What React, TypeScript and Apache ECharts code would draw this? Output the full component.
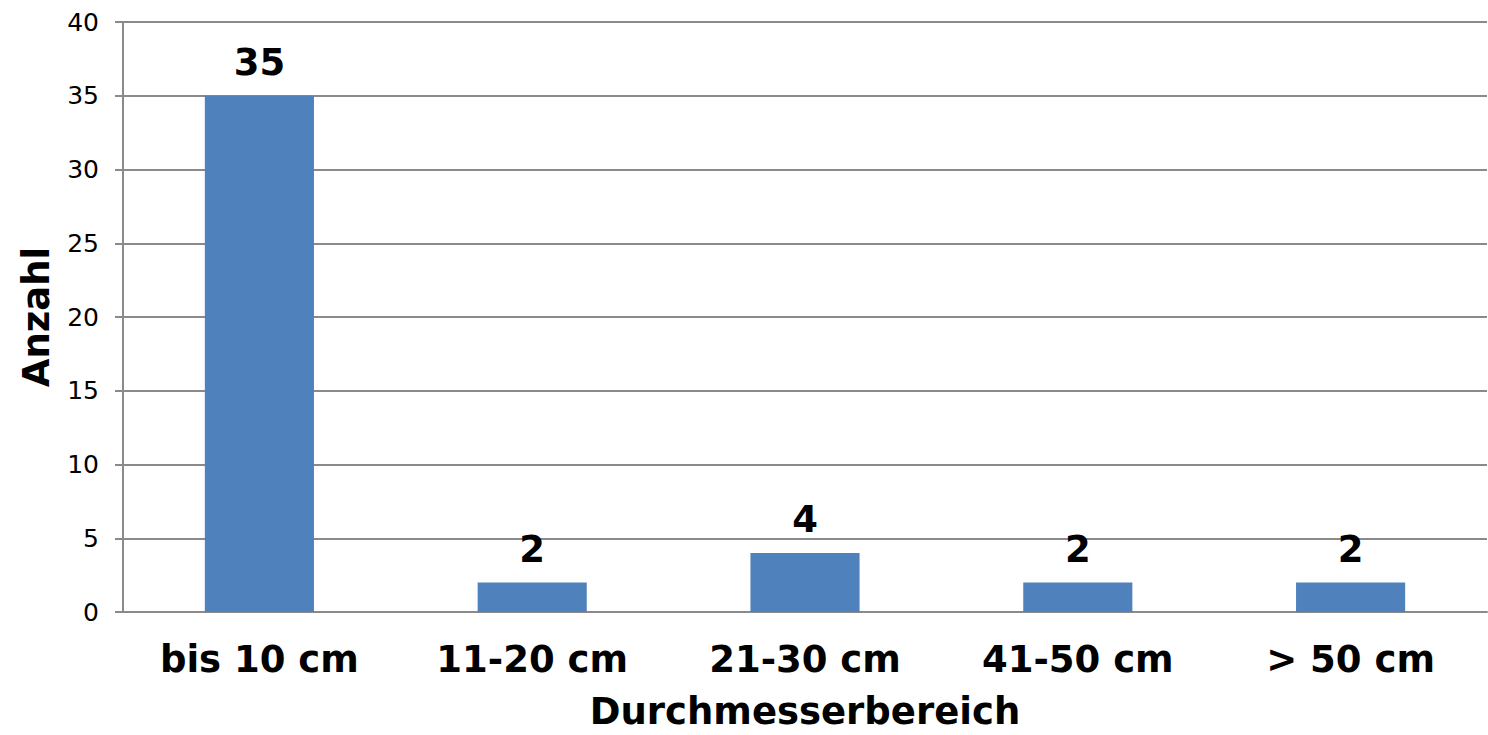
import React, { useEffect, useRef } from "react";
import * as echarts from "echarts";

const categories = ["bis 10 cm", "11-20 cm", "21-30 cm", "41-50 cm", "> 50 cm"];
const counts = [35, 2, 4, 2, 2];
const yTicks = { min: 0, max: 40, interval: 5 };
const xAxisTitle = "Durchmesserbereich";
const yAxisTitle = "Anzahl";

const FONT = "'DejaVu Sans', Verdana, sans-serif";

export default function App() {
  const ref = useRef<HTMLDivElement>(null);
  useEffect(() => {
    if (!ref.current) return;
    const chart = echarts.init(ref.current, undefined, { renderer: "svg" });
    chart.setOption({
      animation: false,
      backgroundColor: "#ffffff",
      textStyle: { fontFamily: FONT },
      grid: { left: 123, right: 1, top: 22, bottom: 119, containLabel: false },
      xAxis: {
        type: "category",
        data: categories,
        name: xAxisTitle,
        nameLocation: "middle",
        nameGap: 81,
        nameTextStyle: { fontFamily: FONT, fontWeight: "bold", fontSize: 37, color: "#000" },
        axisLine: { show: true, lineStyle: { color: "#8a8a8a", width: 2 } },
        axisTick: { show: false },
        axisLabel: { margin: 29, fontFamily: FONT, fontWeight: "bold", fontSize: 37, color: "#000" },
        splitLine: { show: false },
      },
      yAxis: {
        type: "value",
        min: yTicks.min,
        max: yTicks.max,
        interval: yTicks.interval,
        name: yAxisTitle,
        nameLocation: "middle",
        nameGap: 68,
        nameRotate: 90,
        nameTextStyle: { fontFamily: FONT, fontWeight: "bold", fontSize: 37, color: "#000" },
        axisLine: { show: true, lineStyle: { color: "#8a8a8a", width: 2 } },
        axisTick: { show: true, length: 8, inside: false, lineStyle: { color: "#8a8a8a", width: 2 } },
        axisLabel: { margin: 24, fontFamily: FONT, fontSize: 25, color: "#000" },
        splitLine: { show: true, lineStyle: { color: "#8a8a8a", width: 2 } },
      },
      series: [
        {
          type: "bar",
          data: counts,
          barWidth: "40%",
          itemStyle: { color: "#4f81bd" },
          label: {
            show: true,
            position: "top",
            distance: 15,
            fontFamily: FONT,
            fontWeight: "bold",
            fontSize: 37,
            color: "#000",
          },
        },
      ],
    });
    return () => chart.dispose();
  }, []);
  return (
    <div
      ref={ref}
      style={{ position: "fixed", left: 0, top: 0, width: 1488, height: 735, background: "#fff" }}
    />
  );
}
